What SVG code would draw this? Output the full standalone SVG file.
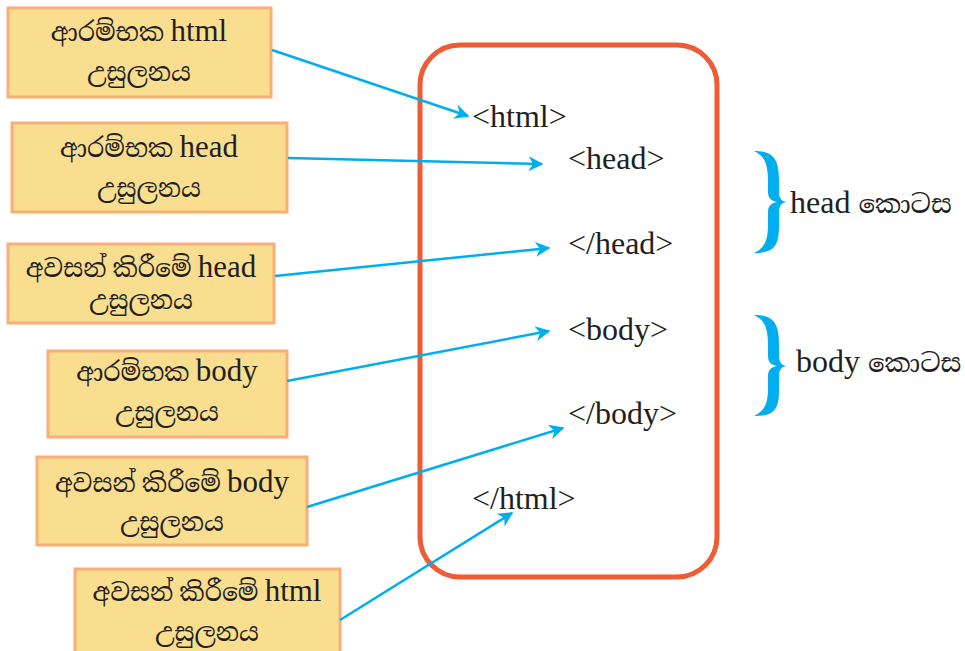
<svg xmlns="http://www.w3.org/2000/svg" width="965" height="651" viewBox="0 0 965 651">
<style>
.box{fill:#FADE8F;stroke:#F9AE78;stroke-width:3}
.lbl{font-family:"Liberation Serif","Noto Serif Sinhala","Noto Sans Sinhala",serif;font-size:25px;fill:#231F20;text-anchor:middle}
.en{font-size:31px}
.tag{font-family:"Liberation Serif","Noto Serif Sinhala","Noto Sans Sinhala",serif;font-size:32px;fill:#231F20}
.si{font-size:26px}
.con{stroke:#00AEEF;stroke-width:2.5;fill:none}
.brace{fill:#00AEEF}
</style>
<defs>
<marker id="ah" viewBox="0 0 10 10" refX="9" refY="5" markerWidth="6" markerHeight="6" markerUnits="strokeWidth" orient="auto">
<path d="M0,0 L10,5 L0,10 L3,5 Z" fill="#00AEEF"/>
</marker>
</defs>
<rect width="965" height="651" fill="#fff"/>
<g id="frame"><rect x="420" y="45" width="297" height="532" rx="40" fill="none" stroke="#EE5B35" stroke-width="5"/></g>
<g id="n1"><rect class="box" x="8" y="8" width="263" height="89"/><text class="lbl" x="139" y="41">ආරම්භක <tspan class="en">html</tspan></text><text class="lbl" x="139" y="81">උසුලනය</text></g>
<g id="n2"><rect class="box" x="12" y="123" width="275" height="89"/><text class="lbl" x="149" y="157">ආරම්භක <tspan class="en">head</tspan></text><text class="lbl" x="149" y="197">උසුලනය</text></g>
<g id="n3"><rect class="box" x="8" y="244" width="266" height="79"/><text class="lbl" x="141" y="277">අවසන් කිරීමේ <tspan class="en">head</tspan></text><text class="lbl" x="141" y="309">උසුලනය</text></g>
<g id="n4"><rect class="box" x="48" y="351" width="239" height="86"/><text class="lbl" x="167" y="381">ආරම්භක <tspan class="en">body</tspan></text><text class="lbl" x="167" y="421">උසුලනය</text></g>
<g id="n5"><rect class="box" x="37" y="457" width="270" height="88"/><text class="lbl" x="172" y="492">අවසන් කිරීමේ <tspan class="en">body</tspan></text><text class="lbl" x="172" y="531">උසුලනය</text></g>
<g id="n6"><rect class="box" x="75" y="569" width="265" height="90"/><text class="lbl" x="207" y="601">අවසන් කිරීමේ <tspan class="en">html</tspan></text><text class="lbl" x="207" y="641">උසුලනය</text></g>
<g id="tags">
<text class="tag" x="472" y="127">&lt;html&gt;</text>
<text class="tag" x="568" y="169">&lt;head&gt;</text>
<text class="tag" x="568" y="254">&lt;/head&gt;</text>
<text class="tag" x="568" y="340">&lt;body&gt;</text>
<text class="tag" x="568" y="424">&lt;/body&gt;</text>
<text class="tag" x="472" y="509">&lt;/html&gt;</text>
</g>
<g id="sections">
<path class="brace" d="M754,151 C774,151 779,160 779,180 L779,192 C779,198 782,202 787,202 C782,202 779,206 779,212 L779,226 C779,246 774,253 754,253 C764,248 768,242 768,224 L768,212 C768,206 771,203 777,202 C771,201 768,198 768,192 L768,182 C768,162 764,156 754,151 Z"/>
<text class="tag" x="790" y="213">head <tspan class="si">කොටස</tspan></text>
<path class="brace" d="M754,315 C774,315 779,324 779,344 L779,356 C779,362 782,366 787,366 C782,366 779,370 779,376 L779,390 C779,410 774,416 754,416 C764,411 768,405 768,388 L768,376 C768,370 771,367 777,366 C771,365 768,362 768,356 L768,346 C768,326 764,320 754,315 Z"/>
<text class="tag" x="796" y="372">body <tspan class="si">කොටස</tspan></text>
</g>
<g id="connectors">
<line class="con" x1="272" y1="50" x2="468" y2="116" marker-end="url(#ah)"/>
<line class="con" x1="288" y1="158" x2="542" y2="164" marker-end="url(#ah)"/>
<line class="con" x1="275" y1="276" x2="549" y2="248" marker-end="url(#ah)"/>
<line class="con" x1="287" y1="381" x2="549" y2="331" marker-end="url(#ah)"/>
<line class="con" x1="307" y1="507" x2="563" y2="428" marker-end="url(#ah)"/>
<line class="con" x1="340" y1="620" x2="512" y2="513" marker-end="url(#ah)"/>
</g>
</svg>
